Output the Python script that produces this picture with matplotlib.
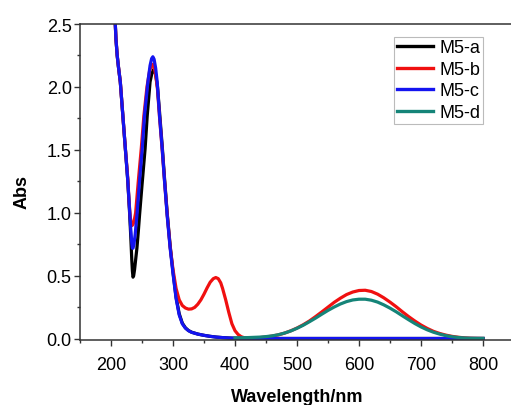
import matplotlib
matplotlib.use("Agg")
import matplotlib.pyplot as plt
from matplotlib.ticker import MultipleLocator, FormatStrFormatter

plt.rcParams['font.family'] = ['Liberation Sans', 'DejaVu Sans']

# ---- data ----
wl_a = [200, 204, 206, 208, 210, 212, 215, 219, 223, 227, 230, 232, 233.5, 234.5, 235.5,
        236.5, 238, 240, 241.8, 244, 246, 250, 255, 258.4, 263, 266, 269, 272, 275, 278.3,
        282.6, 286.4, 290.6, 295.4, 300, 305, 310, 315, 320, 325, 330, 340, 350, 360, 370,
        380, 390, 400, 450, 500, 550, 600, 650, 700, 750, 800]
abs_a = [3.6, 2.85, 2.6, 2.38, 2.25, 2.16, 2.04, 1.78, 1.52, 1.26, 1.0, 0.8, 0.63, 0.54, 0.49,
         0.5, 0.55, 0.64, 0.72, 0.85, 0.98, 1.22, 1.51, 1.77, 2.04, 2.11, 2.14, 2.1, 2.0, 1.8,
         1.53, 1.27, 1.0, 0.74, 0.53, 0.33, 0.2, 0.125, 0.088, 0.066, 0.053, 0.038, 0.028, 0.02, 0.014,
         0.01, 0.007, 0.005, 0.003, 0.003, 0.003, 0.003, 0.003, 0.003, 0.003, 0.003]

wl_b = [200, 204, 206, 208, 210, 212, 215, 219, 223, 227, 229, 231, 232.5, 234, 235.5, 237,
        239.7, 244, 248.8, 253, 258, 262, 265, 267.5, 270, 272.5, 275, 278.3, 282.6, 286.4,
        290.6, 295.4, 300, 305, 310, 315, 320, 325, 330, 335, 340, 345, 350, 355, 360, 365,
        369, 373, 377, 380, 385, 390, 395, 400, 405, 410, 415, 420, 430, 440, 450, 460, 470,
        480, 490, 500, 510, 520, 530, 540, 550, 560, 570, 580, 590, 600, 610, 620, 630, 640,
        650, 660, 670, 680, 690, 700, 710, 720, 730, 740, 750, 760, 770, 780, 790, 800]
abs_b = [3.6, 2.85, 2.6, 2.38, 2.25, 2.16, 2.04, 1.78, 1.52, 1.28, 1.1, 0.97, 0.92, 0.9, 0.91, 0.93,
         1.0, 1.25, 1.51, 1.77, 2.0, 2.12, 2.17, 2.18, 2.15, 2.08, 1.98, 1.76, 1.5, 1.25,
         0.99, 0.73, 0.55, 0.4, 0.31, 0.265, 0.245, 0.236, 0.238, 0.25, 0.275, 0.31, 0.355, 0.405, 0.45, 0.478,
         0.487, 0.478, 0.445, 0.40, 0.31, 0.21, 0.12, 0.065, 0.035, 0.017, 0.009, 0.006, 0.007, 0.010, 0.015, 0.022, 0.032,
         0.046, 0.064, 0.086, 0.112, 0.142, 0.177, 0.214, 0.252, 0.29, 0.323, 0.352, 0.372, 0.384, 0.386, 0.376, 0.355, 0.326,
         0.292, 0.255, 0.215, 0.177, 0.142, 0.11, 0.083, 0.06, 0.043, 0.03, 0.02, 0.013, 0.008, 0.005, 0.004, 0.003]

wl_c = [200, 204, 206, 208, 210, 212, 215, 219, 223, 227, 230, 232, 233.5, 234.5, 235.5, 237,
        239, 241.8, 246, 250.4, 254, 259.5, 263, 265.5, 267.5, 269.5, 272, 274.5, 278.3, 282.6,
        286.4, 290.6, 295.4, 300, 305, 310, 315, 320, 325, 330, 340, 350, 360, 370, 380, 390,
        400, 450, 500, 550, 600, 650, 700, 750, 800]
abs_c = [3.6, 2.85, 2.6, 2.38, 2.25, 2.16, 2.04, 1.78, 1.52, 1.26, 1.02, 0.86, 0.76, 0.72, 0.72, 0.75,
         0.83, 0.98, 1.25, 1.51, 1.77, 2.04, 2.17, 2.225, 2.24, 2.22, 2.15, 2.04, 1.77, 1.51,
         1.25, 0.98, 0.72, 0.52, 0.32, 0.19, 0.12, 0.085, 0.065, 0.052, 0.038, 0.028, 0.02, 0.014, 0.01, 0.007,
         0.005, 0.003, 0.003, 0.003, 0.003, 0.003, 0.003, 0.003, 0.003]

wl_d = [400, 410, 420, 430, 440, 450, 460, 470, 480, 490, 500, 510, 520, 530, 540, 550, 560,
        570, 580, 590, 600, 610, 620, 630, 640, 650, 660, 670, 680, 690, 700, 710, 720, 730,
        740, 750, 760, 770, 780, 790, 800]
abs_d = [0.008, 0.009, 0.01, 0.012, 0.014, 0.018, 0.024, 0.033, 0.046, 0.063, 0.084, 0.108, 0.136, 0.165, 0.196, 0.226, 0.253,
         0.277, 0.296, 0.309, 0.315, 0.315, 0.307, 0.292, 0.27, 0.244, 0.215, 0.183, 0.152, 0.122, 0.095, 0.072, 0.053, 0.038,
         0.026, 0.017, 0.011, 0.007, 0.005, 0.004, 0.004]

labels = ['M5-a', 'M5-b', 'M5-c', 'M5-d']
colors = ['#000000', '#f01010', '#1414f0', '#158478']

fig = plt.figure(figsize=(5.11, 4.06), dpi=100)
W, H = 511, 406
left_px, right_px, top_px, bot_px = 80, 514, 25, 340.5
ax = fig.add_axes([left_px / W, 1 - bot_px / H, (right_px - left_px) / W, (bot_px - top_px) / H])

for x, y, lab, c in zip([wl_a, wl_b, wl_c, wl_d], [abs_a, abs_b, abs_c, abs_d], labels, colors):
    ax.plot(x, y, color=c, lw=2.3, label=lab, solid_joinstyle='round')

ax.set_xlim(150, 850)
ax.set_ylim(-0.005, 2.5)
ax.xaxis.set_major_locator(MultipleLocator(100))
ax.xaxis.set_minor_locator(MultipleLocator(50))
ax.yaxis.set_major_locator(MultipleLocator(0.5))
ax.yaxis.set_minor_locator(MultipleLocator(0.25))
ax.yaxis.set_major_formatter(FormatStrFormatter('%.1f'))
ax.set_xticks([200, 300, 400, 500, 600, 700, 800])

spine_c = '#333333'
for s in ['left', 'bottom', 'top']:
    ax.spines[s].set_color(spine_c)
    ax.spines[s].set_linewidth(1.1)
ax.spines['right'].set_visible(False)

ax.tick_params(axis='both', which='major', direction='out', length=4, width=1, color=spine_c,
               labelsize=13)
ax.tick_params(axis='both', which='minor', direction='out', length=2.2, width=1, color=spine_c)
ax.tick_params(axis='x', which='both', top=False)
ax.tick_params(axis='x', which='major', pad=8)
ax.tick_params(axis='y', which='major', pad=2)

ax.set_xlabel('Wavelength/nm', fontsize=13, fontweight='bold')
ax.set_ylabel('Abs', fontsize=13, fontweight='bold')
ax.xaxis.set_label_coords(0.5, -0.155)
ax.yaxis.set_label_coords(-0.115, 0.47)

leg = fig.legend(loc='upper left', bbox_to_anchor=(394 / W, 1 - 37.7 / H),
                 fontsize=13, frameon=True, fancybox=False, framealpha=1,
                 edgecolor='#bbbbbb', handlelength=2.0, handletextpad=0.35,
                 labelspacing=0.25, borderpad=0.15, borderaxespad=0)
leg.get_frame().set_linewidth(0.8)
for line in leg.get_lines():
    line.set_linewidth(2.4)

fig.savefig('out.png', dpi=100)
